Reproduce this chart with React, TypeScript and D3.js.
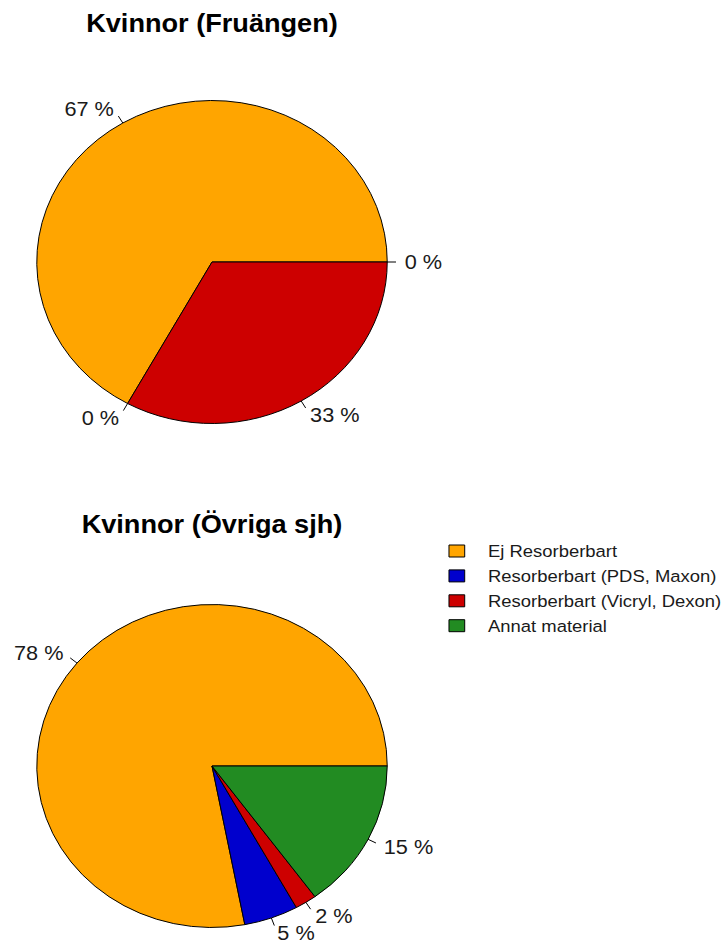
import React from "react";
import * as d3 from "d3";

const categories = [
  "Ej Resorberbart",
  "Resorberbart (PDS, Maxon)",
  "Resorberbart (Vicryl, Dexon)",
  "Annat material",
];
const colors = ["#FFA500", "#0000CD", "#CD0000", "#228B22"];

const titleFruangen = "Kvinnor (Fruängen)";
const titleOvriga = "Kvinnor (Övriga sjh)";
// percentages per category
const valuesFruangen = [67, 0, 33, 0];
const valuesOvriga = [78, 5, 2, 15];

const W = 728;
const H = 945;
const sx = 1.085; // picture is slightly wider than tall
const font = "'Liberation Sans', Arial, Helvetica, sans-serif";

const Pie = ({ cx, cy, r, values, title, titleY }) => {
  const total = d3.sum(values);
  // R pie: counterclockwise from 3 o'clock
  const theta = d3.scaleLinear().domain([0, total]).range([0, 2 * Math.PI]);
  const cum = d3.cumsum(values);
  const arc = d3.arc().innerRadius(0).outerRadius(r);

  return (
    <g>
      <text
        x={cx}
        y={titleY}
        textAnchor="middle"
        fontSize={25}
        fontWeight="bold"
        fontFamily={font}
      >
        {title}
      </text>
      <g transform={`translate(${cx},${cy})`}>
        {values.map((v, i) => {
          const t0 = theta(cum[i] - v);
          const t1 = theta(cum[i]);
          if (v === 0) return null;
          return (
            <path
              key={"s" + i}
              d={arc({ startAngle: Math.PI / 2 - t0, endAngle: Math.PI / 2 - t1 })}
              fill={colors[i]}
              stroke="#000"
              strokeWidth={1}
              vectorEffect="non-scaling-stroke"
            />
          );
        })}
        {values.map((v, i) => {
          const tm = theta(cum[i] - v / 2);
          const c = Math.cos(tm);
          const s = Math.sin(tm);
          const pct = Math.round((100 * v) / total) + " %";
          return (
            <g key={"l" + i}>
              <line
                x1={r * c}
                y1={-r * s}
                x2={1.05 * r * c}
                y2={-1.05 * r * s}
                stroke="#000"
                strokeWidth={1}
                vectorEffect="non-scaling-stroke"
              />
              <text
                x={1.1 * r * c}
                y={-1.1 * r * s}
                dy="0.36em"
                textAnchor={c < 0 ? "end" : "start"}
                fontSize={20}
                fontFamily={font}
                fill="#1a1a1a"
              >
                {pct}
              </text>
            </g>
          );
        })}
      </g>
    </g>
  );
};

export default function App() {
  const cx = 212 / sx;
  const r = 161.5;
  const legendX = 413.8;
  const legendY = 551;
  const rowH = 24.9;

  return (
    <svg
      width={W}
      height={H}
      style={{ position: "absolute", left: 0, top: 0, background: "#fff" }}
    >
      <g transform={`scale(${sx},1)`}>
        <Pie
          cx={cx}
          cy={262}
          r={r}
          values={valuesFruangen}
          title={titleFruangen}
          titleY={32}
        />
        <Pie
          cx={cx}
          cy={766}
          r={r}
          values={valuesOvriga}
          title={titleOvriga}
          titleY={533}
        />
        <g>
          {categories.map((cat, i) => (
            <g key={cat} transform={`translate(${legendX},${legendY + i * rowH})`}>
              <rect
                x={0}
                y={-6}
                width={14.5}
                height={12}
                fill={colors[i]}
                stroke="#000"
                strokeWidth={1}
                vectorEffect="non-scaling-stroke"
              />
              <text
                x={36}
                y={0}
                dy="0.36em"
                fontSize={17}
                fontFamily={font}
                fill="#1a1a1a"
              >
                {cat}
              </text>
            </g>
          ))}
        </g>
      </g>
    </svg>
  );
}
